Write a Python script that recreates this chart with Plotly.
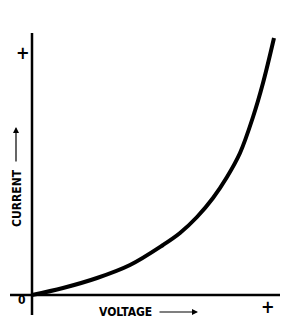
import plotly.graph_objects as go

# Curve values (arbitrary units, origin at axes crossing)
voltage = [0, 31, 65, 98, 131, 148, 165, 181, 195, 208, 221, 231, 242]
current = [0, 7, 17, 30, 50, 62, 78, 97, 118, 142, 178, 212, 257]

x_label = "VOLTAGE"
y_label = "CURRENT"
plus_tick = "+"
zero_tick = "0"

fig = go.Figure()
fig.add_trace(go.Scatter(x=voltage, y=current, mode="lines",
                         line=dict(color="black", width=4, shape="spline", smoothing=1.0),
                         hoverinfo="skip", showlegend=False))

# axes lines
fig.add_shape(type="line", x0=0, x1=0, y0=-20, y1=262, xref="x", yref="y",
              line=dict(color="black", width=2.5))
fig.add_shape(type="line", x0=-22, x1=248, y0=0, y1=0, xref="x", yref="y",
              line=dict(color="black", width=2.5))

fam = "DejaVu Sans Condensed, DejaVu Sans"
font = dict(family=fam, size=12, color="black")
fig.add_annotation(x=-9, y=243, text="<b>" + plus_tick + "</b>", showarrow=False,
                   font=dict(family=fam, size=18, color="black"))
fig.add_annotation(x=236, y=-11, text="<b>" + plus_tick + "</b>", showarrow=False,
                   font=dict(family=fam, size=18, color="black"))
fig.add_annotation(x=-10, y=-5, text="<b>" + zero_tick + "</b>", showarrow=False,
                   font=dict(family=fam, size=12, color="black"))
fig.add_annotation(x=93, y=-17, text="<b>" + x_label + "</b>", showarrow=False,
                   font=font)
fig.add_annotation(x=-15, y=97, text="<b>" + y_label + "</b>", showarrow=False,
                   textangle=-90, font=font)
# arrows
fig.add_annotation(x=166, y=-17, ax=126, ay=-17, axref="x", ayref="y",
                   xref="x", yref="y", text="", showarrow=True,
                   arrowhead=2, arrowsize=1, arrowwidth=1.2, arrowcolor="black")
fig.add_annotation(x=-16, y=168, ax=-16, ay=132, axref="x", ayref="y",
                   xref="x", yref="y", text="", showarrow=True,
                   arrowhead=2, arrowsize=1, arrowwidth=1.2, arrowcolor="black")

fig.update_layout(
    width=289, height=322,
    margin=dict(l=0, r=0, t=0, b=0),
    paper_bgcolor="white", plot_bgcolor="white",
    xaxis=dict(range=[-32, 257], visible=False, fixedrange=True),
    yaxis=dict(range=[-27, 295], visible=False, fixedrange=True),
)
fig.write_html("out.html")
